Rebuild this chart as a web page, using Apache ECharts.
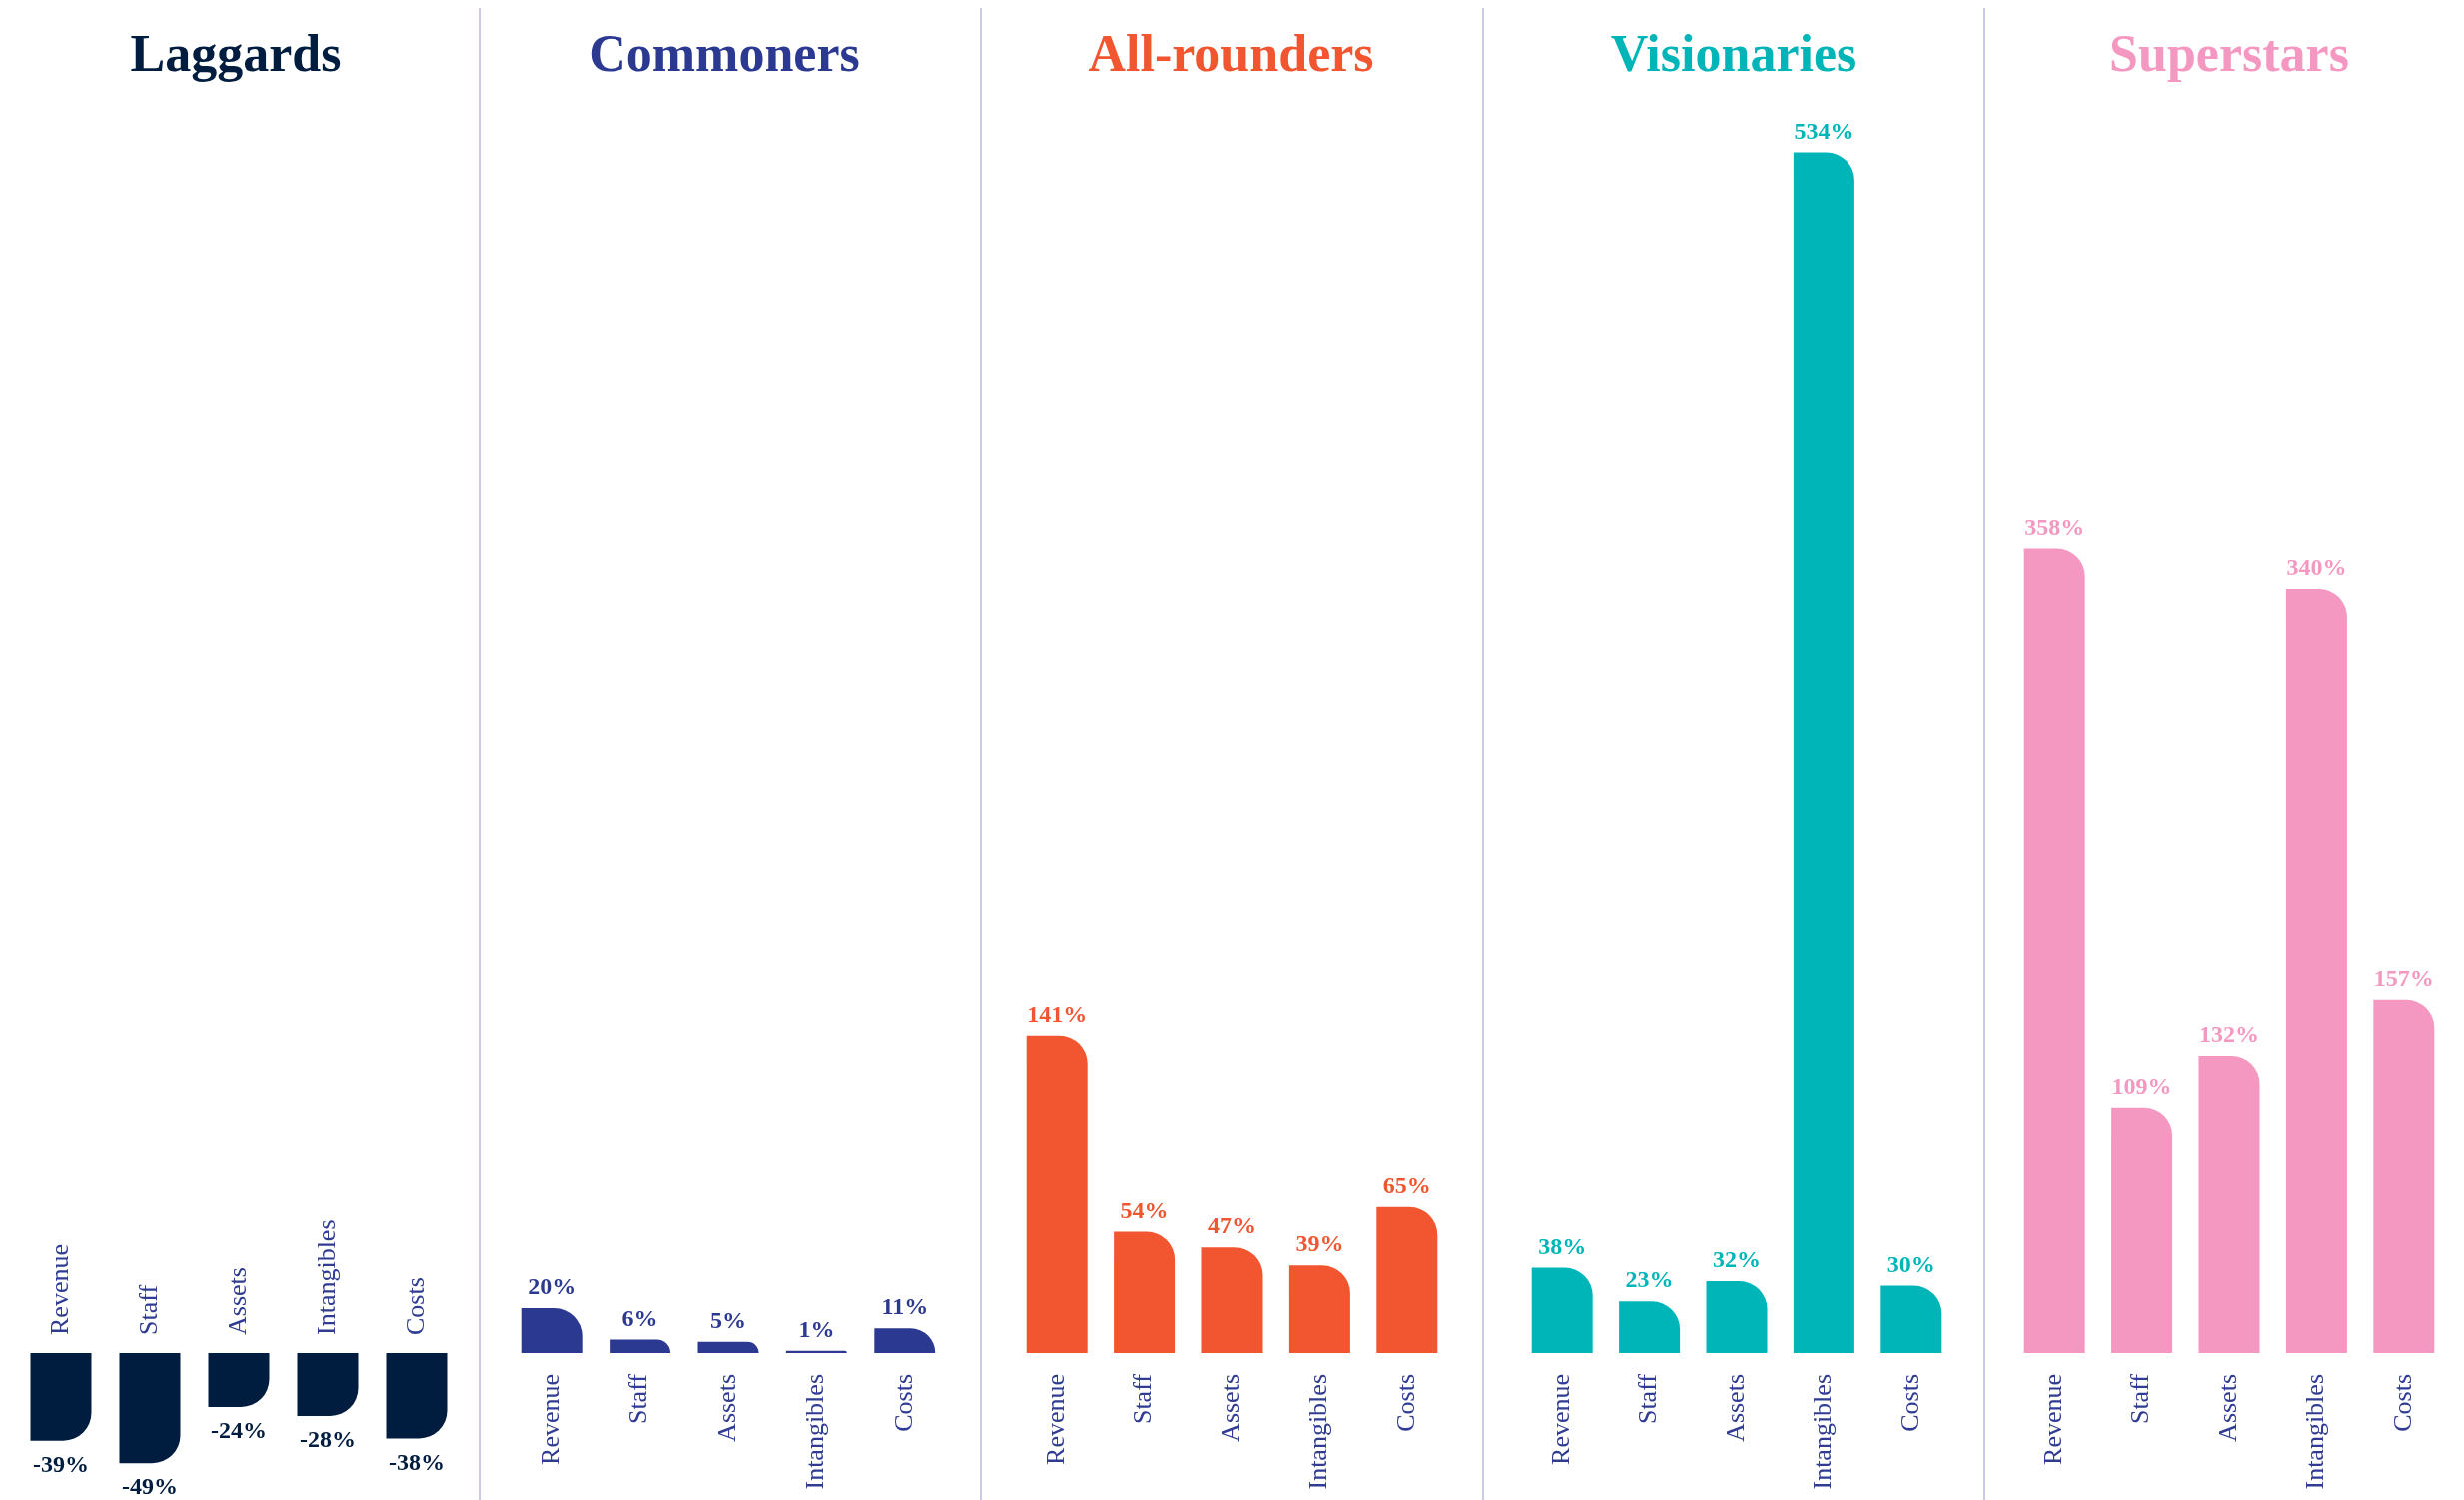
<!DOCTYPE html>
<html>
<head>
<meta charset="utf-8">
<script src="https://cdn.jsdelivr.net/npm/echarts@6/dist/echarts.min.js"></script>
<style>
html,body{margin:0;padding:0;background:#fff;}
#chart{width:2466px;height:1501px;}
</style>
</head>
<body>
<div id="chart"></div>
<script>
const categories = ['Revenue', 'Staff', 'Assets', 'Intangibles', 'Costs'];
const groups = ['Laggards', 'Commoners', 'All-rounders', 'Visionaries', 'Superstars'];
const laggards = [-39, -49, -24, -28, -38];
const commoners = [20, 6, 5, 1, 11];
const allRounders = [141, 54, 47, 39, 65];
const visionaries = [38, 23, 32, 534, 30];
const superstars = [358, 109, 132, 340, 157];
const seriesValues = [laggards, commoners, allRounders, visionaries, superstars];

const colors = ['#001c3e', '#2c3990', '#f15631', '#00b5b8', '#f598c1'];
const labelBlue = '#2f3c92';
const serif = '"Liberation Serif", "DejaVu Serif", serif';

const gridCenters = [239, 729, 1233, 1738, 2231];
const titleCenters = [231, 720, 1227, 1730, 2226];
const gridWidths = [445, 442, 437, 437, 437];
const separators = [480, 982, 1484, 1986];

// vertical scale shared by all panels: zero line at y=1354, 2.25 px per percentage point
const zeroY = 1354, pxPer = 2.25, posMax = 540, negMin = -60, H = 1501;

const chart = echarts.init(document.getElementById('chart'), null, {renderer: 'canvas'});

const grids = [], xAxes = [], yAxes = [], series = [], titles = [];
groups.forEach((g, i) => {
  const neg = i === 0;
  const grid = {left: gridCenters[i] - gridWidths[i] / 2, width: gridWidths[i], outerBoundsMode: 'none', containLabel: false};
  if (neg) { grid.top = zeroY; grid.height = -negMin * pxPer; }
  else { grid.top = zeroY - posMax * pxPer; grid.bottom = H - zeroY; }
  grids.push(grid);
  xAxes.push({
    type: 'category', gridIndex: i, data: categories,
    position: neg ? 'top' : 'bottom',
    axisLine: {show: false, onZero: false},
    axisTick: {show: false},
    axisLabel: {rotate: neg ? -90 : 90, margin: neg ? 18 : 21, color: labelBlue, fontFamily: serif, fontSize: 26, interval: 0}
  });
  yAxes.push({type: 'value', gridIndex: i, min: neg ? negMin : 0, max: neg ? 0 : posMax, show: false, splitLine: {show: false}});
  series.push({
    type: 'bar', name: g, xAxisIndex: i, yAxisIndex: i, barWidth: 61,
    data: seriesValues[i].map(v => ({
      value: v,
      itemStyle: {borderRadius: v < 0 ? [0, 0, 28, 0] : [0, 28, 0, 0]}
    })),
    itemStyle: {color: colors[i]},
    label: {
      show: true, position: neg ? 'bottom' : 'top', distance: neg ? 13 : 8,
      formatter: p => p.value + '%',
      color: colors[i], fontFamily: serif, fontWeight: 'bold', fontSize: 24
    },
    emphasis: {disabled: true},
    animation: false
  });
  titles.push({
    text: g, left: titleCenters[i], top: 27, textAlign: 'center',
    textStyle: {color: colors[i], fontFamily: serif, fontWeight: 'bold', fontSize: 52}
  });
});

const graphics = separators.map(x => ({
  type: 'line', shape: {x1: x, y1: 8, x2: x, y2: 1501},
  style: {stroke: '#c9cae4', lineWidth: 2}, silent: true
}));

chart.setOption({
  animation: false,
  title: titles,
  grid: grids,
  xAxis: xAxes,
  yAxis: yAxes,
  series: series,
  graphic: graphics
});
</script>
</body>
</html>
